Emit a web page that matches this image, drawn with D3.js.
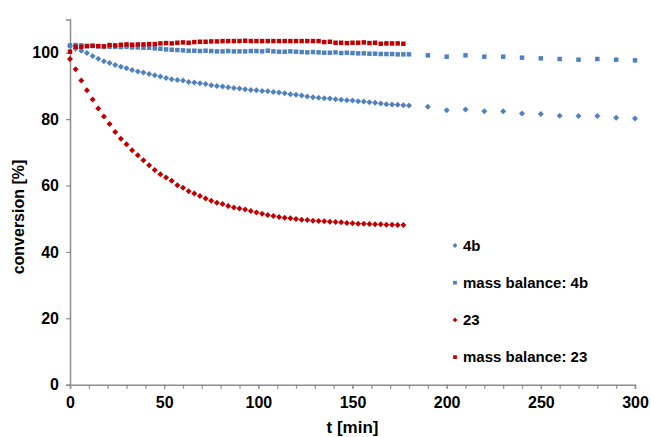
<!DOCTYPE html>
<html>
<head>
<meta charset="utf-8">
<script src="https://cdn.jsdelivr.net/npm/d3@7"></script>
<style>
body { margin: 0; background: #fff; }
text { font-family: "Liberation Sans", Arial, sans-serif; font-weight: bold; fill: #000; }
</style>
</head>
<body>
<script>
// sampling times [min]
let tDense = [0,3,6,9,12,15,18,21,24,27,30,33,36,39,42,45,48,51,54,57,60,63,66,69,72,75,78,81,84,87,90,
    93,96,99,102,105,108,111,114,117,120,123,126,129,132,135,138,141,144,147,150,153,156,159,162,165,168,171,174,177,180]
let tSparse = [190,200,210,220,230,240,250,260,270,280,290,300]

// 4b conversion [%]
let conv4b = [102.0,101.2,100.6,99.9,99.0,98.2,97.4,96.9,96.3,95.8,95.3,94.8,94.3,94.0,93.6,93.2,92.8,92.4,92.0,91.8,
    91.6,91.2,91.0,90.8,90.6,90.2,90.0,89.8,89.6,89.4,89.2,89.0,88.8,88.7,88.5,88.4,88.2,88.0,87.8,87.5,
    87.3,87.1,86.8,86.6,86.4,86.3,86.2,86.0,85.8,85.7,85.6,85.4,85.3,85.1,84.9,84.7,84.5,84.4,84.3,84.2,84.1,
    83.7,82.7,82.9,82.4,82.4,81.7,81.5,81.0,80.9,80.9,80.4,80.2]
// mass balance 4b [%]
let mass4b = [102.2,102.3,102.2,102.0,102.0,101.9,101.9,101.8,101.8,101.7,101.8,101.6,101.6,101.5,101.5,101.3,101.2,101.0,100.9,100.8,
    100.7,100.6,100.6,100.5,100.6,100.5,100.4,100.4,100.5,100.4,100.4,100.4,100.5,100.5,100.4,100.6,100.4,100.3,100.3,100.4,
    100.3,100.2,100.1,100.2,100.1,100.0,100.0,100.1,99.9,100.0,99.9,99.8,99.8,99.7,99.7,99.6,99.6,99.6,99.5,99.5,99.5,
    99.2,98.8,99.2,98.8,98.8,98.5,98.3,98.1,97.9,98.1,97.9,97.7]
// 23 conversion [%]
let conv23 = [98.1,95.0,91.6,88.7,85.9,83.2,80.8,78.5,76.1,74.1,72.4,70.6,69.1,67.6,66.1,64.7,63.4,62.4,61.4,60.1,
    59.3,58.3,57.6,56.8,56.1,55.4,54.8,54.4,53.8,53.4,53.1,52.8,52.3,51.9,51.5,51.1,50.8,50.5,50.3,50.1,
    49.9,49.7,49.6,49.4,49.3,49.2,49.1,49.0,48.9,48.7,48.6,48.5,48.5,48.4,48.3,48.3,48.2,48.2,48.1,48.1]
// mass balance 23 [%]
let mass23 = [100.3,101.8,101.8,102.0,102.1,102.0,101.9,102.3,102.2,102.4,102.5,102.4,102.5,102.5,102.6,102.6,102.8,102.9,102.8,103.0,
    103.1,103.0,103.2,103.3,103.3,103.4,103.4,103.5,103.5,103.5,103.5,103.6,103.5,103.5,103.5,103.5,103.5,103.5,103.5,103.5,
    103.5,103.5,103.5,103.5,103.5,103.2,103.3,103.0,103.0,102.9,103.0,103.0,103.1,102.9,103.0,102.7,102.8,102.8,102.8,102.7]

let xTicks = [0,50,100,150,200,250,300]
let yTicks = [0,20,40,60,80,100]

let tAll = tDense.concat(tSparse)
let series = [
    {name:"4b", color:"#4F81BD", shape:"diamond", pts:conv4b.map((v,i)=>[tAll[i],v])},
    {name:"mass balance: 4b", color:"#4F81BD", shape:"square", pts:mass4b.map((v,i)=>[tAll[i],v])},
    {name:"23", color:"#C00000", shape:"diamond", pts:conv23.map((v,i)=>[tDense[i],v])},
    {name:"mass balance: 23", color:"#C00000", shape:"square", pts:mass23.map((v,i)=>[tDense[i],v])}
]

let w = 651, h = 437
let svg = d3.select("body").append("svg").attr("width", w).attr("height", h)

let xScale = d3.scaleLinear().domain([0,300]).range([70,635])
let yScale = d3.scaleLinear().domain([0,110]).range([384.7,19.5])

let axisColor = "#8c8c8c"
// y axis
let yAxis = d3.axisLeft(yScale).tickValues(yTicks).tickSize(4).tickPadding(7)
let gy = svg.append("g").attr("transform", `translate(${xScale(0)},0)`).call(yAxis)
gy.select(".domain").attr("stroke", axisColor).attr("stroke-width", 1.5)
gy.selectAll(".tick line").attr("stroke", axisColor).attr("stroke-width", 1.2)
gy.selectAll("text").style("font-size", "16px").attr("fill", "#000")

// x axis, minor ticks every 10 min
let xAxisMinor = d3.axisBottom(xScale).ticks(30).tickSize(4).tickFormat("")
let gxm = svg.append("g").attr("transform", `translate(0,${yScale(0)})`).call(xAxisMinor)
gxm.select(".domain").remove()
gxm.selectAll(".tick line").attr("stroke", axisColor).attr("stroke-width", 1.2)
let xAxis = d3.axisBottom(xScale).tickValues(xTicks).tickSize(4).tickPadding(8)
let gx = svg.append("g").attr("transform", `translate(0,${yScale(0)})`).call(xAxis)
gx.select(".domain").attr("stroke", axisColor).attr("stroke-width", 1.5)
gx.selectAll(".tick line").attr("stroke", axisColor).attr("stroke-width", 1.2)
gx.selectAll("text").style("font-size", "16px").attr("fill", "#000")

// titles
svg.append("text").attr("x", 352.5).attr("y", 433).attr("text-anchor", "middle")
    .style("font-size", "17px").text("t [min]")
svg.append("text").attr("transform", "translate(24,217) rotate(-90)").attr("text-anchor", "middle")
    .style("font-size", "16px").text("conversion [%]")

let symDiamond = d3.symbol().type(d3.symbolSquare).size(18)
let symSquare = d3.symbol().type(d3.symbolSquare).size(20)

series.forEach(s=>{
    svg.append("g").selectAll("path")
        .data(s.pts)
        .enter()
        .append("path")
        .attr("d", s.shape=="diamond"?symDiamond:symSquare)
        .attr("fill", s.color)
        .attr("transform", d=>`translate(${xScale(d[0])},${yScale(d[1])})` + (s.shape=="diamond"?" rotate(45)":""))
})

// legend
let legend = svg.append("g").selectAll("g")
    .data(series)
    .enter()
    .append("g")
    .attr("transform", (d,i)=>`translate(455,${245.5+i*37.2})`)
legend.append("path")
    .attr("d", d=>d3.symbol().type(d3.symbolSquare).size(d.shape=="diamond"?12:14)())
    .attr("fill", d=>d.color)
    .attr("transform", d=>d.shape=="diamond"?"rotate(45)":"")
legend.append("text")
    .attr("x", 8).attr("dy", "0.35em")
    .style("font-size", "15px")
    .text(d=>d.name)
</script>
</body>
</html>
